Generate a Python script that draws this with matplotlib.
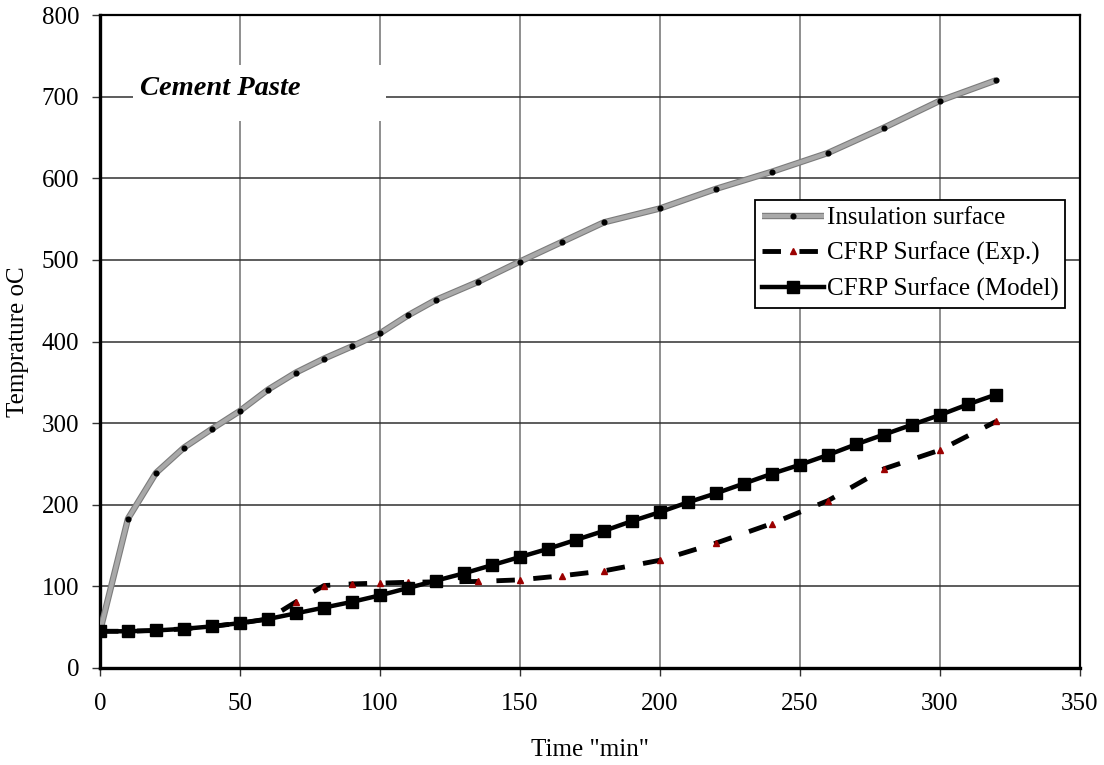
import matplotlib
matplotlib.use("Agg")
import matplotlib.pyplot as plt
from matplotlib.patches import Rectangle
from matplotlib.legend_handler import HandlerTuple
import matplotlib.patheffects as pe

plt.rcParams['font.family'] = ['Liberation Serif', 'DejaVu Serif']

# Time (min) at which readings were taken
time_ins = [0, 10, 20, 30, 40, 50, 60, 70, 80, 90, 100, 110, 120, 135, 150,
            165, 180, 200, 220, 240, 260, 280, 300, 320]
insulation = [45, 183, 239, 270, 293, 315, 341, 362, 379, 394, 410, 432, 451,
              473, 498, 522, 546, 563, 587, 608, 631, 662, 695, 720]

time_exp = time_ins
cfrp_exp = [45, 45, 46, 48, 51, 55, 60, 81, 101, 103, 104, 105, 105.5, 106,
            108, 113, 119, 132, 153, 177, 205, 244, 267, 302]

time_model = [0, 10, 20, 30, 40, 50, 60, 70, 80, 90, 100, 110, 120, 130, 140,
              150, 160, 170, 180, 190, 200, 210, 220, 230, 240, 250, 260, 270,
              280, 290, 300, 310, 320]
cfrp_model = [45, 45, 46, 48, 51, 55, 60, 67, 74, 81, 89, 98, 107, 116, 126,
              136, 146, 157, 168, 180, 191, 203, 214, 226, 238, 249, 261, 274,
              286, 298, 310, 323, 335]

series_labels = ['Insulation surface', 'CFRP Surface (Exp.)',
                 'CFRP Surface (Model)']
x_ticks = [0, 50, 100, 150, 200, 250, 300, 350]
y_ticks = [0, 100, 200, 300, 400, 500, 600, 700, 800]

fig = plt.figure(figsize=(11.04, 7.65), dpi=100)
ax = fig.add_axes([100 / 1104, 1 - 668 / 765, 980 / 1104, 653 / 765])

ax.set_xlim(0, 350)
ax.set_ylim(0, 800)
ax.set_xticks(x_ticks)
ax.set_yticks(y_ticks)

ax.xaxis.grid(True, color='#707070', linewidth=1.1, zorder=0)
ax.yaxis.grid(True, color='#303030', linewidth=1.1, zorder=0)
ax.set_axisbelow(True)

# Label box for the material name, hiding the grid behind it
ax.add_patch(Rectangle((11.8, 670), 90.2, 69, facecolor='white',
                       edgecolor='none', zorder=1))
ax.text(14.3, 710, 'Cement Paste', fontsize=20.5, fontweight='bold',
        fontstyle='italic', va='center', ha='left', zorder=2)

# Insulation surface: textured grey band with small black dots
ins_line, = ax.plot(time_ins, insulation, color='#a9a9a9', linewidth=3.0,
                    solid_capstyle='butt', zorder=3,
                    path_effects=[pe.Stroke(linewidth=4.6, foreground='#7c7c7c'),
                                  pe.Normal()])
ins_dots, = ax.plot(time_ins, insulation, linestyle='none', marker='o',
                    markersize=3.4, color='black', zorder=4)

exp_line, = ax.plot(time_exp, cfrp_exp, color='black', linewidth=3.5,
                    dashes=(3.8, 3.8), marker='^', markersize=5,
                    markerfacecolor='#9b0000', markeredgecolor='#9b0000',
                    zorder=5)

model_line, = ax.plot(time_model, cfrp_model, color='black', linewidth=3.2,
                      marker='s', markersize=8.5, zorder=6)

for side in ['left', 'bottom']:
    ax.spines[side].set_linewidth(2.4)
for side in ['top', 'right']:
    ax.spines[side].set_linewidth(1.6)

ax.tick_params(axis='both', direction='out', length=6, width=1.0,
               labelsize=18, color='#333333')
ax.tick_params(axis='x', pad=12)
ax.tick_params(axis='y', pad=9)

ax.set_xlabel('Time "min"', fontsize=18, labelpad=17)
ax.set_ylabel('Temprature oC', fontsize=18, labelpad=9)

leg = ax.legend([(ins_line, ins_dots), exp_line, model_line], series_labels,
                handler_map={tuple: HandlerTuple(ndivide=1)},
                loc='upper left', bbox_to_anchor=(0.668, 0.7167),
                borderaxespad=0, fontsize=18, handlelength=2.5,
                handletextpad=0.1, labelspacing=0.5, borderpad=0.28,
                fancybox=False, framealpha=1, edgecolor='black', numpoints=1)
leg.get_frame().set_linewidth(1.3)

fig.savefig('out.png', dpi=100)
